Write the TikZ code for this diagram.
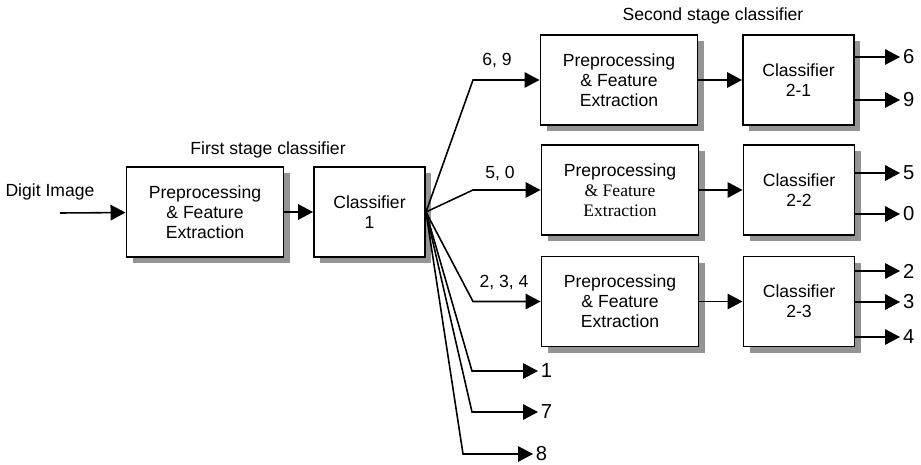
\documentclass[tikz,border=0pt]{standalone}
\usepackage{fontspec}
\setsansfont{Liberation Sans}
\newfontfamily\timesfam{Liberation Serif}
\usetikzlibrary{positioning,arrows.meta,shadows}
\tikzset{
  pfeb/.style={draw=black, fill=white, line width=1.1pt, align=center,
    minimum width=31.4mm, minimum height=18mm, inner sep=2pt,
    font=\sffamily\fontsize{10}{11.5}\selectfont,
    drop shadow={shadow xshift=1.2mm, shadow yshift=-1.2mm, fill=black!42, opacity=1}},
  clsb/.style={pfeb, minimum width=22.2mm},
  flow/.style={-{Triangle[length=3mm,width=3.1mm]}, line width=0.9pt},
  lab/.style={font=\sffamily\fontsize{10}{12}\selectfont, inner sep=1pt},
  outlab/.style={font=\sffamily\fontsize{11.5}{12}\selectfont, inner sep=1.5pt, anchor=west},
}

\begin{document}
\begin{tikzpicture}
  \useasboundingbox (0,0) rectangle (18.42,-9.3);

  % first stage
  \node[lab] (din) at (1.0,-3.84) {Digit Image};
  \coordinate (src) at (1.2,-4.26);
  \node[lab] (st1) at (5.36,-3.0) {First stage classifier};
  \node[pfeb] (pfe1) at (4.1,-4.24) {Preprocessing\\\& Feature\\Extraction};
  \node[clsb] (cls1) at (7.39,-4.24) {Classifier\\1};
  \draw[flow] (src) -- (pfe1);
  \draw[flow] (pfe1) -- (cls1);

  % second stage
  \node[lab] (st2) at (14.26,-0.32) {Second stage classifier};
  \node[pfeb] (pfe21) at (12.38,-1.6) {Preprocessing\\\& Feature\\Extraction};
  \node[clsb] (cls21) at (15.97,-1.6) {Classifier\\2-1};
  \node[pfeb] (pfe22) at (12.4,-3.8)
    {Preprocessing\\{\timesfam\& Feature}\\{\timesfam Extraction}};
  \node[clsb] (cls22) at (15.98,-3.8) {Classifier\\2-2};
  \node[pfeb] (pfe23) at (12.4,-6.03) {Preprocessing\\\& Feature\\Extraction};
  \node[clsb] (cls23) at (15.98,-6.03) {Classifier\\2-3};
  \draw[flow] (pfe21) -- (cls21);
  \draw[flow] (pfe22) -- (cls22);
  \draw[flow] (pfe23) -- (cls23);

  % fan out of classifier 1
  \coordinate (k21) at (9.46,-1.6);
  \coordinate (k22) at (9.46,-3.8);
  \coordinate (k23) at (9.46,-6.03);
  \coordinate (k1) at (9.44,-7.42);
  \coordinate (k7) at (9.44,-8.24);
  \coordinate (k8) at (9.26,-9.08);
  \node[lab] (g21) at (9.94,-1.2) {6, 9};
  \node[lab] (g22) at (10.0,-3.46) {5, 0};
  \node[lab] (g23) at (10.08,-5.64) {2, 3, 4};
  \node[outlab] (o1) at (10.76,-7.42) {1};
  \node[outlab] (o7) at (10.76,-8.24) {7};
  \node[outlab] (o8) at (10.66,-9.08) {8};
  \draw[flow] (cls1.east) -- (k21) -- (pfe21.west);
  \draw[flow] (cls1.east) -- (k22) -- (pfe22.west);
  \draw[flow] (cls1.east) -- (k23) -- (pfe23.west);
  \draw[flow] (cls1.east) -- (k1) -- (o1.west);
  \draw[flow] (cls1.east) -- (k7) -- (o7.west);
  \draw[flow] (cls1.east) -- (k8) -- (o8.west);

  % outputs
  \node[outlab] (o6) at (18.0,-1.14) {6};
  \node[outlab] (o9) at (18.0,-2.0) {9};
  \node[outlab] (o5) at (18.0,-3.46) {5};
  \node[outlab] (o0) at (18.0,-4.28) {0};
  \node[outlab] (o2) at (18.0,-5.42) {2};
  \node[outlab] (o3) at (18.0,-6.04) {3};
  \node[outlab] (o4) at (18.0,-6.74) {4};
  \draw[flow] (cls21.east |- o6.west) -- (o6.west);
  \draw[flow] (cls21.east |- o9.west) -- (o9.west);
  \draw[flow] (cls22.east |- o5.west) -- (o5.west);
  \draw[flow] (cls22.east |- o0.west) -- (o0.west);
  \draw[flow] (cls23.east |- o2.west) -- (o2.west);
  \draw[flow] (cls23.east |- o3.west) -- (o3.west);
  \draw[flow] (cls23.east |- o4.west) -- (o4.west);
\end{tikzpicture}
\end{document}
